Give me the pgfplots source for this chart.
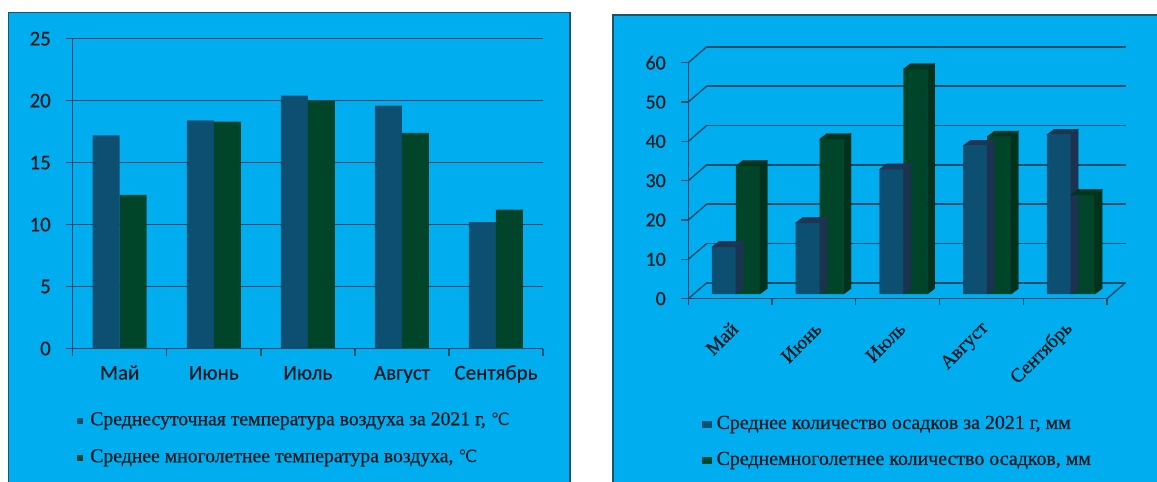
\documentclass[border=0pt]{standalone}
\usepackage{pgfplots}
\usepackage{pgfplotstable}
\pgfplotsset{compat=1.18}
\usepackage{fontspec}
\setmainfont{Liberation Serif}
\newfontfamily\legfont[FakeBold=0.6]{Liberation Serif}
\newfontfamily\carlito[FakeBold=0.3]{Carlito}
\newfontfamily\dv{DejaVu Sans}
\definecolor{bg}{HTML}{00AEEF}
\definecolor{bluebar}{HTML}{0D4F70}
\definecolor{greenbar}{HTML}{00442A}
\definecolor{gridc}{HTML}{0F4C68}
\definecolor{bluetop}{HTML}{1D3653}
\definecolor{blueside}{HTML}{1C3350}
\definecolor{greentop}{HTML}{00361F}
\definecolor{greenside}{HTML}{00321C}
\definecolor{borderc}{HTML}{17566F}
\definecolor{txt}{HTML}{0A1A20}
\newcommand{\degC}{{\dv\fontsize{17}{17}\selectfont ℃}}

\pgfplotstableread{
x t21 tmean p21 pmean
0 17.2 12.4 12.0 32.6
1 18.4 18.3 18.1 39.4
2 20.4 20.0 31.7 57.2
3 19.6 17.4 37.7 40.0
4 10.2 11.2 40.5 25.2
}\data

\pgfplotsset{
  commonaxis/.style={
    anchor=south west, scale only axis, clip=false,
    xmin=-0.5, xmax=4.5, ymin=0,
    axis line style={draw=none},
    /pgf/number format/assume math mode=true,
  },
  blueface/.style={
    scatter, only marks, mark=*, mark size=0pt, forget plot,
    visualization depends on={rawy \as \ry},
    scatter/@pre marker code/.code={%
      \pgfmathsetlengthmacro\hh{\ry*3.9333pt}%
      \fill[bluetop] (-24pt,0pt) -- (0pt,0pt) -- (7.3pt,5.5pt) -- (-16.7pt,5.5pt) -- cycle;
      \fill[blueside] (0pt,0pt) -- (7.3pt,5.5pt) -- (7.3pt,{5.5pt-\hh}) -- (0pt,-\hh) -- cycle;
    },
    scatter/@post marker code/.code={},
  },
  greenface/.style={
    scatter, only marks, mark=*, mark size=0pt, forget plot,
    visualization depends on={rawy \as \ry},
    scatter/@pre marker code/.code={%
      \pgfmathsetlengthmacro\hh{\ry*3.9333pt}%
      \fill[greentop] (0pt,0pt) -- (24pt,0pt) -- (31.3pt,5.5pt) -- (7.3pt,5.5pt) -- cycle;
      \fill[greenside] (24pt,0pt) -- (31.3pt,5.5pt) -- (31.3pt,{5.5pt-\hh}) -- (24pt,-\hh) -- cycle;
    },
    scatter/@post marker code/.code={},
  },
}

\begin{document}
\begin{tikzpicture}
\useasboundingbox (0pt,0pt) rectangle (1157pt,-482pt);
\fill[white] (0pt,0pt) rectangle (1157pt,-482pt);
% panels
\fill[bg] (8.5pt,-12.7pt) rectangle (570pt,-482pt);
\draw[borderc, line width=1.5pt] (8.5pt,-482pt) -- (8.5pt,-12.7pt) -- (570pt,-12.7pt) -- (570pt,-482pt);
\fill[bg] (613pt,-15pt) rectangle (1160pt,-482pt);
\draw[borderc, line width=1.5pt] (613pt,-482pt) -- (613pt,-15pt) -- (1160pt,-15pt);

% ---------------- left chart ----------------
\begin{axis}[commonaxis,
  at={(72.7pt,-348.5pt)}, width=470.3pt, height=309.8pt, ymax=25,
  ytick={0,5,...,25}, ymajorgrids, grid style={gridc, line width=1.4pt},
  xtick={0,...,4}, xticklabels={Май,Июнь,Июль,Август,Сентябрь},
  minor xtick={-0.5,0.5,...,4.5},
  tick pos=left, tick align=outside, major tick length=7pt, minor tick length=7pt,
  tick style={gridc, line width=1.4pt},
  every major x tick/.append style={draw=none},
  ticklabel style={font=\carlito\fontsize{21}{21}\selectfont, text=txt, inner sep=0pt},
  yticklabel style={xshift=-14.7pt},
  xticklabel style={anchor=base, yshift=-24pt},
  legend cell align=left,
  legend style={draw=none, fill=none, inner sep=0pt, outer sep=0pt,
    at={(axis description cs:0.0098,-0.209)}, anchor=north west,
    font=\legfont\fontsize{19.7}{19.7}\selectfont, text=txt, row sep=21pt, column sep=7pt,
    nodes={inner sep=0pt, text height=12pt, text depth=4pt}},
  legend image code/.code={\fill[#1] (0pt,-3pt) rectangle (6pt,3pt);},
]
\addplot[ybar, bar width=27pt, bar shift=-13.5pt, fill=bluebar, draw=none] table[x=x,y=t21]{\data};
\addlegendentry{Среднесуточная температура воздуха за 2021 г, \degC}
\addplot[ybar, bar width=27pt, bar shift=13.5pt, fill=greenbar, draw=none] table[x=x,y=tmean]{\data};
\addlegendentry{Среднее многолетнее температура воздуха, \degC}
\draw[gridc, line width=1.4pt] (axis cs:-0.5,0) -- (axis cs:-0.5,25);
\draw[gridc, line width=1.4pt] (axis cs:-0.5,0) -- (axis cs:4.5,0);
\end{axis}

% ---------------- right chart: back wall ----------------
\begin{axis}[commonaxis,
  at={(706.8pt,-282.7pt)}, width=418.7pt, height=236pt, ymax=60,
  ytick={0,10,...,60}, xtick=\empty, yticklabels={}, ymajorgrids,
  major tick length=0pt, grid style={gridc, line width=1.6pt},
]
\end{axis}

% ---------------- right chart: front frame ----------------
\begin{axis}[commonaxis,
  at={(688.3pt,-298.7pt)}, width=418.7pt, height=236pt, ymax=60,
  ytick={0,10,...,60},
  xtick={0,...,4}, xticklabels={Май,Июнь,Июль,Август,Сентябрь},
  minor xtick={-0.5,0.5,...,4.5},
  tick pos=left, tick align=outside, major tick length=7pt, minor tick length=6pt,
  tick style={gridc, line width=1.4pt},
  every major x tick/.append style={draw=none},
  ticklabel style={text=txt, inner sep=0pt},
  yticklabel style={font=\carlito\fontsize{20}{20}\selectfont, xshift=-15.3pt},
  xticklabel style={font=\legfont\fontsize{19.5}{19.5}\selectfont, anchor=east, xshift=4.5pt, yshift=-20pt, rotate=45},
]
\draw[gridc, line width=1.4pt] (axis cs:-0.5,0) -- (axis cs:-0.5,60);
\draw[gridc, line width=1.4pt] (axis cs:-0.5,0) -- (axis cs:4.5,0);
\pgfplotsinvokeforeach{0,10,...,60}{
  \draw[gridc, line width=1.4pt] (axis cs:-0.5,#1) -- ++(18.5pt,16pt);
}
\draw[gridc, line width=1.4pt] (axis cs:4.5,0) -- ++(18.5pt,16pt);
\end{axis}

% ---------------- right chart: bars ----------------
\begin{axis}[commonaxis,
  at={(694.1pt,-294pt)}, width=418.7pt, height=236pt, ymax=60,
  xtick=\empty, ytick=\empty,
  legend cell align=left,
  legend style={draw=none, fill=none, inner sep=0pt, outer sep=0pt,
    at={(axis description cs:0.018,-0.521)}, anchor=north west,
    font=\legfont\fontsize{19.9}{19.9}\selectfont, text=txt, row sep=20pt, column sep=5pt,
    nodes={inner sep=0pt, text height=12pt, text depth=4pt}},
  legend image code/.code={\fill[#1] (0pt,-3.5pt) rectangle (10pt,3.5pt);},
]
\addplot[ybar, bar width=24pt, bar shift=-12pt, fill=bluebar, draw=none] table[x=x,y=p21]{\data};
\addlegendentry{Среднее количество осадков за 2021 г, мм}
\addplot[blueface] table[x=x,y=p21]{\data};
\addplot[ybar, bar width=24pt, bar shift=12pt, fill=greenbar, draw=none] table[x=x,y=pmean]{\data};
\addlegendentry{Среднемноголетнее количество осадков, мм}
\addplot[greenface] table[x=x,y=pmean]{\data};
\end{axis}
\end{tikzpicture}
\end{document}
